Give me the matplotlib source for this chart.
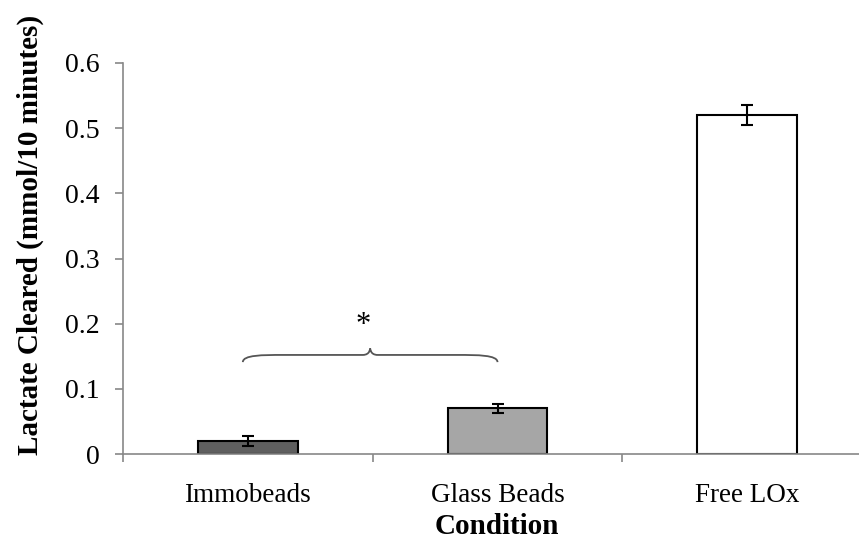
import matplotlib
matplotlib.use("Agg")
import matplotlib.pyplot as plt
from matplotlib.path import Path
from matplotlib.patches import PathPatch

categories = ["Immobeads", "Glass Beads", "Free LOx"]
values = [0.02, 0.07, 0.52]
errors = [0.008, 0.007, 0.015]
yticks = [0, 0.1, 0.2, 0.3, 0.4, 0.5, 0.6]
ytick_labels = ["0", "0.1", "0.2", "0.3", "0.4", "0.5", "0.6"]
colors = ["#5f5f5f", "#a6a6a6", "#ffffff"]

plt.rcParams["font.family"] = ["Liberation Serif", "DejaVu Serif"]

fig = plt.figure(figsize=(8.59, 5.40), dpi=100)
W, H = 859, 540
left, right, top, bottom = 123, 872, 63, 454
ax = fig.add_axes([left / W, 1 - bottom / H, (right - left) / W, (bottom - top) / H])

x = list(range(len(categories)))
ax.bar(x, values, width=0.4, color=colors, edgecolor="black", linewidth=1.5, zorder=2)
ax.errorbar(x, values, yerr=errors, fmt="none", ecolor="black", elinewidth=1.5,
            capsize=4.5, capthick=1.5, zorder=3)

ax.set_xlim(-0.5, 2.5)
ax.set_ylim(0, 0.6)
ax.set_yticks(yticks)
ax.set_yticklabels(ytick_labels, fontsize=20)
ax.set_xticks(x)
ax.set_xticklabels(categories, fontsize=19.5)
ax.tick_params(axis="x", length=0, pad=21)
ax.set_xticks([-0.5, 0.5, 1.5, 2.5], minor=True)
ax.tick_params(axis="x", which="minor", length=5.5, color="#888888", width=1.2, direction="out")
ax.tick_params(axis="y", length=6, color="#888888", width=1.2, direction="out", pad=11)

for s in ["top", "right"]:
    ax.spines[s].set_visible(False)
for s in ["left", "bottom"]:
    ax.spines[s].set_color("#888888")
    ax.spines[s].set_linewidth(1.2)

ax.set_ylabel("Lactate Cleared (mmol/10 minutes)", fontsize=21, fontweight="bold")
ax.yaxis.set_label_coords(-0.106, 0.56)
fig.text(497 / W, 1 - 527 / H, "Condition", fontsize=21, fontweight="bold",
         ha="center", va="center")

# curly brace over first two bars
xl, xr, xm = -0.02, 1.0, 0.49
ye, yf, yp = 0.141, 0.152, 0.162
verts = [
    (xl, ye), (xl, yf), (xl + 0.08, yf), (xl + 0.16, yf),
    (xm - 0.08, yf), (xm - 0.08, yf), (xm - 0.03, yf),
    (xm, yf), (xm, yp), (xm, yp),
    (xm, yp), (xm, yf), (xm + 0.03, yf),
    (xm + 0.08, yf), (xm + 0.08, yf), (xr - 0.16, yf),
    (xr - 0.08, yf), (xr, yf), (xr, ye),
]
codes = [Path.MOVETO] + [Path.CURVE4] * 3 + [Path.LINETO] + [Path.LINETO] * 2 + \
        [Path.CURVE4] * 3 + [Path.CURVE4] * 3 + [Path.LINETO] * 2 + [Path.LINETO] + [Path.CURVE4] * 3
path = Path(verts, codes)
ax.add_patch(PathPatch(path, facecolor="none", edgecolor="#555555", linewidth=1.3, zorder=3))
ax.text(0.46, 0.197, "*", fontsize=22, ha="center", va="center")

fig.savefig("out.png", dpi=100)
